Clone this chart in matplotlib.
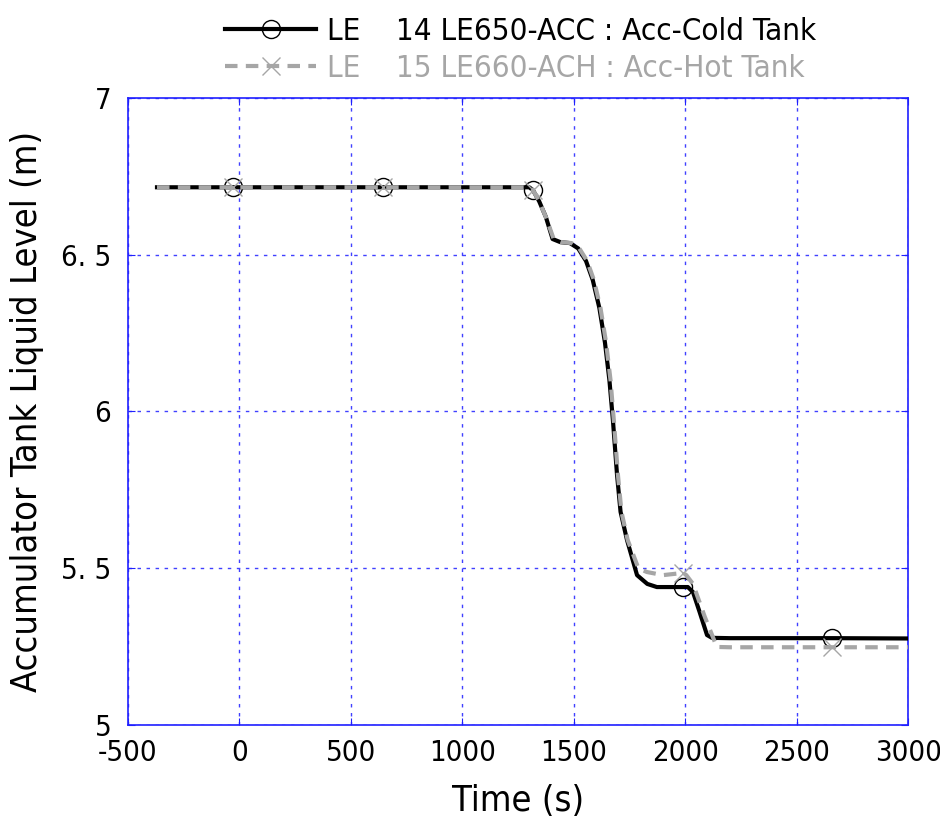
import numpy as np
import matplotlib.pyplot as plt

plt.rcParams['font.family'] = ['DejaVu Sans']
plt.rcParams['font.stretch'] = 'condensed'
plt.rcParams['axes.unicode_minus'] = False

# Accumulator tank levels (m) vs time (s)
t_cold = [-370, -30, 644, 1300, 1317, 1345, 1375, 1405, 1440, 1483, 1520, 1555,
          1585, 1615, 1640, 1660, 1676, 1694, 1710, 1739, 1784, 1830, 1873, 1990,
          2012, 2035, 2065, 2098, 2120, 2200, 2658, 3000]
lvl_cold = [6.715, 6.715, 6.715, 6.715, 6.706, 6.67, 6.62, 6.55, 6.54, 6.537, 6.52, 6.48,
            6.42, 6.33, 6.22, 6.10, 5.97, 5.80, 5.68, 5.59, 5.478, 5.45, 5.44, 5.44,
            5.44, 5.424, 5.36, 5.287, 5.278, 5.277, 5.277, 5.276]
mark_cold = [1, 2, 4, 23, 30]

t_hot = [-370, -30, 644, 1300, 1317, 1345, 1375, 1410, 1445, 1490, 1525, 1560,
         1590, 1620, 1645, 1665, 1680, 1698, 1714, 1742, 1790, 1828, 1900, 1990,
         2005, 2035, 2088, 2142, 2200, 2658, 3000]
lvl_hot = [6.715, 6.715, 6.715, 6.715, 6.706, 6.67, 6.62, 6.55, 6.54, 6.537, 6.52, 6.48,
           6.42, 6.33, 6.22, 6.10, 5.97, 5.80, 5.68, 5.59, 5.50, 5.488, 5.478, 5.485,
           5.478, 5.45, 5.345, 5.249, 5.248, 5.248, 5.248]
mark_hot = [1, 2, 4, 23, 29]

label_cold = 'LE    14 LE650-ACC : Acc-Cold Tank'
label_hot = 'LE    15 LE660-ACH : Acc-Hot Tank'

fig = plt.figure(figsize=(9.4, 8.16), dpi=100)
ax = fig.add_axes([0.1362, 0.1115, 0.8298, 0.7685])

ax.plot(t_cold, lvl_cold, color='black', lw=3, marker='o', markevery=mark_cold,
        ms=13, mfc='none', mec='black', mew=1, label=label_cold, zorder=3)
ax.plot(t_hot, lvl_hot, color='#a6a6a6', lw=3, ls=(0, (3, 2)), marker='x',
        markevery=mark_hot, ms=13, mec='#a6a6a6', mew=1, label=label_hot, zorder=4)

ax.set_xlim(-500, 3000)
ax.set_ylim(5, 7)
ax.set_xticks(np.arange(-500, 3001, 500))
ax.set_yticks([5, 5.5, 6, 6.5, 7])
ax.set_yticklabels(['5', '5. 5', '6', '6. 5', '7'])
ax.grid(True, color='#4040ff', ls=(0, (2.5, 4)), lw=1)
for s in ax.spines.values():
    s.set_color('#2020ff')
    s.set_linewidth(1.2)
ax.tick_params(direction='in', length=5, color='#2020ff', top=True, right=True,
               labelsize=21)
ax.tick_params(axis='x', pad=10)
ax.tick_params(axis='y', pad=12)

ax.set_xlabel('Time (s)', fontsize=26, labelpad=12)
ax.set_ylabel('Accumulator Tank Liquid Level (m)', fontsize=26, labelpad=12)

leg = fig.legend(loc='upper center', bbox_to_anchor=(0.554, 1.0), frameon=False,
                 fontsize=22.5, numpoints=1, handlelength=2.9, labelspacing=0.25,
                 handletextpad=0.35, borderaxespad=0.15)
for txt, c in zip(leg.get_texts(), ['black', '#a6a6a6']):
    txt.set_color(c)

fig.savefig('out.png', dpi=100)
